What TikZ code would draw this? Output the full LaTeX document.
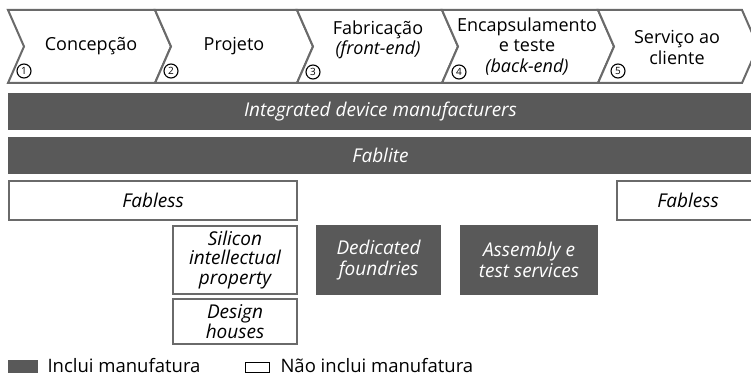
\documentclass[tikz,border=0pt]{standalone}
\usepackage{fontspec}
\setmainfont{Open Sans}
\usetikzlibrary{positioning}
\definecolor{manuf}{HTML}{595959}
\definecolor{edgegray}{HTML}{6A6A6A}
\tikzset{
  stage/.style={draw=edgegray, line width=2pt, fill=white, line join=miter},
  stagetext/.style={align=center, font=\fontsize{18}{20.5}\selectfont},
  stepnum/.style={circle, draw=black, line width=1.1pt, inner sep=0pt, minimum size=14pt, font=\fontsize{10}{10}\selectfont},
  withfab/.style={fill=manuf, text=white, align=center, inner sep=0pt, font=\fontsize{19}{20.5}\selectfont\itshape},
  nofab/.style={draw=edgegray, line width=2.2pt, fill=white, align=center, inner sep=0pt, font=\fontsize{19}{19.5}\selectfont\itshape},
  legtext/.style={anchor=west, font=\fontsize{18.5}{20}\selectfont}
}
\begin{document}
\begin{tikzpicture}[x=1pt, y=-1pt]
    \useasboundingbox (0,0) rectangle (751,377);
    \clip (0,0) rectangle (751,377);

    % Value chain stages
    \draw[stage] (8,10) -- (155,10) -- (171,46.5) -- (155,83) -- (8,83) -- (24,46.5) -- cycle;
    \draw[stage] (155,10) -- (297,10) -- (313,46.5) -- (297,83) -- (155,83) -- (171,46.5) -- cycle;
    \draw[stage] (297,10) -- (442,10) -- (458,46.5) -- (442,83) -- (297,83) -- (313,46.5) -- cycle;
    \draw[stage] (442,10) -- (598,10) -- (614,46.5) -- (598,83) -- (442,83) -- (458,46.5) -- cycle;
    \draw[stage] (598,10) -- (742,10) -- (758,46.5) -- (742,83) -- (598,83) -- (614,46.5) -- cycle;

    \node[stagetext] (concepcao) at (91,46) {Concepção};
    \node[stagetext] (projeto) at (234,46) {Projeto};
    \node[stagetext] (fabricacao) at (378,40) {Fabricação\\\textit{(front-end)}};
    \node[stagetext] (encapsulamento) at (527,46.5) {Encapsulamento\\e teste\\\textit{(back-end)}};
    \node[stagetext] (servico) at (677,47.5) {Serviço ao\\cliente};

    % Step numbers
    \node[stepnum] (n1) at (24,71) {1};
    \node[stepnum] (n2) at (171,71) {2};
    \node[stepnum] (n3) at (313,72) {3};
    \node[stepnum] (n4) at (459,72) {4};
    \node[stepnum] (n5) at (618,71) {5};

    % Business models
    \node[withfab, minimum width=745pt, minimum height=37pt] (idm) at (380.5,111.5) {Integrated device manufacturers};
    \node[withfab, minimum width=745pt, minimum height=37pt] (fablite) at (380.5,155.5) {Fablite};
    \node[nofab, minimum width=288pt, minimum height=39pt] (fablessleft) at (153,200.5) {Fabless};
    \node[nofab, minimum width=142pt, minimum height=39pt] (fablessright) at (688,200.5) {Fabless};
    \node[nofab, minimum width=124pt, minimum height=68pt] (sip) at (235,260) {Silicon\\intellectual\\property};
    \node[nofab, minimum width=124pt, minimum height=45pt] (design) at (235,321.5) {Design\\houses};
    \node[withfab, minimum width=125pt, minimum height=70pt] (foundries) at (378.5,260) {Dedicated\\foundries};
    \node[withfab, minimum width=138pt, minimum height=70pt] (osat) at (529,260) {Assembly e\\test services};

    % Legend
    \node[withfab, minimum width=30pt, minimum height=13pt] (legdark) at (23,366.5) {};
    \node[legtext] (legdarktext) at (44,366) {Inclui manufatura};
    \node[draw=black, line width=1pt, minimum width=24pt, minimum height=10pt, inner sep=0pt] (leglight) at (257.5,367.5) {};
    \node[legtext] (leglighttext) at (277,366) {Não inclui manufatura};
\end{tikzpicture}
\end{document}
